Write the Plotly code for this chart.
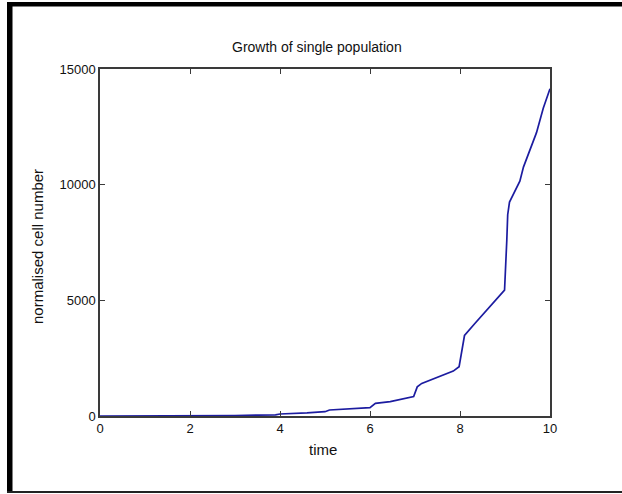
import plotly.graph_objects as go

# ---- data ----
time = [0, 1, 2, 3, 3.9, 4.0, 4.6, 5.0, 5.1, 5.55, 6.0, 6.12, 6.45, 6.97, 7.05, 7.15,
        7.55, 7.85, 7.98, 8.04, 8.1, 8.33, 8.67, 8.99, 9.04, 9.06, 9.1, 9.33, 9.41,
        9.7, 9.85, 10.0]
cells = [1, 3, 7, 20, 50, 86, 135, 185, 260, 300, 365, 545, 620, 840, 1260, 1410,
         1700, 1940, 2130, 2750, 3480, 4000, 4760, 5440, 7600, 8700, 9250, 10150, 10760,
         12250, 13300, 14150]

x_ticks = [0, 2, 4, 6, 8, 10]
y_ticks = [0, 5000, 10000, 15000]

title_text = "Growth of single population"
x_label = "time"
y_label = "normalised cell number"

W, H = 622, 494
L, R, T, B = 100, 550, 69, 416  # plot-area pixel box


def px(xp):
    return (xp - L) / (R - L)


def py(yp):
    return (B - yp) / (B - T)


FONT = "Liberation Sans, Arial, sans-serif"

fig = go.Figure()
fig.add_trace(go.Scatter(x=time, y=cells, mode="lines",
                         line=dict(color="#1c1ca0", width=1.7), showlegend=False))

axis_common = dict(showline=True, linecolor="#3a3a3a", linewidth=1.5, mirror="ticks",
                   ticks="inside", ticklen=5, tickwidth=1, tickcolor="#3a3a3a",
                   showgrid=False, zeroline=False,
                   tickfont=dict(family=FONT, size=13, color="#111"))

fig.update_xaxes(range=[0, 10], tickvals=x_ticks, ticktext=[str(v) for v in x_ticks],
                 **axis_common)
fig.update_yaxes(range=[0, 15000], tickvals=y_ticks, ticktext=[str(v) for v in y_ticks],
                 **axis_common)

shapes = [
    # outer frame (thick top and left, thin bottom)
    dict(type="rect", xref="paper", yref="paper", x0=px(7), x1=px(622), y0=py(2), y1=py(6.5),
         fillcolor="black", line=dict(width=0), layer="above"),
    dict(type="rect", xref="paper", yref="paper", x0=px(7), x1=px(12.5), y0=py(2), y1=py(493),
         fillcolor="black", line=dict(width=0), layer="above"),
    dict(type="rect", xref="paper", yref="paper", x0=px(7), x1=px(622), y0=py(491), y1=py(493),
         fillcolor="#222", line=dict(width=0), layer="above"),
]

annotations = [
    dict(text=title_text, xref="paper", yref="paper", x=px(317), y=py(47),
         xanchor="center", yanchor="middle", showarrow=False,
         font=dict(family=FONT, size=14, color="#111")),
    dict(text=x_label, xref="paper", yref="paper", x=px(323), y=py(449),
         xanchor="center", yanchor="middle", showarrow=False,
         font=dict(family=FONT, size=15, color="#111")),
    dict(text=y_label, xref="paper", yref="paper", x=px(37), y=py(246),
         xanchor="center", yanchor="middle", showarrow=False, textangle=-90,
         font=dict(family=FONT, size=15, color="#111")),
]

fig.update_layout(width=W, height=H, margin=dict(l=L, r=W - R, t=T, b=H - B),
                  paper_bgcolor="white", plot_bgcolor="white",
                  shapes=shapes, annotations=annotations)

fig.write_html("out.html", config={"displayModeBar": False},
               post_script="document.body.style.margin='0';document.body.style.overflow='hidden';")
